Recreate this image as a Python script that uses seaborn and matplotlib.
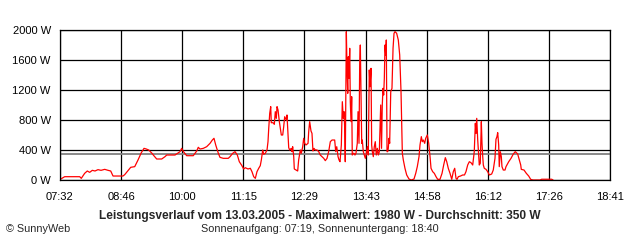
import numpy as np
import pandas as pd
import matplotlib
matplotlib.use("Agg")
import matplotlib.pyplot as plt
import seaborn as sns

# Minutes since midnight and power readings (W)
minutes = [
    452.9, 455.6, 457.7, 476.0, 477.9, 482.0, 485.2, 488.1, 491.3, 494.6,
    498.2, 501.9, 506.4, 510.4, 513.7, 516.5, 528.6, 530.7, 534.7, 538.0,
    542.9, 546.9, 550.9, 554.2, 557.0, 559.9, 563.9, 565.5, 569.6, 575.7,
    579.7, 581.8, 591.9, 598.0, 600.0, 602.2, 606.1, 614.1, 618.3, 620.2,
    622.3, 626.3, 630.4, 634.5, 637.3, 639.3, 641.4, 644.6, 646.6, 650.6,
    656.7, 658.8, 662.1, 664.9, 667.7, 670.1, 673.0, 675.4, 677.4, 680.7,
    683.5, 685.5, 687.6, 689.6, 691.6, 693.7, 695.6, 696.9, 698.6, 699.8,
    701.7, 703.8, 705.0, 705.9, 707.1, 708.3, 709.0, 711.1, 712.7, 713.9,
    715.1, 716.0, 717.2, 718.8, 720.0, 721.2, 722.9, 724.1, 725.3, 727.3,
    728.1, 729.3, 730.2, 731.4, 733.3, 734.2, 735.0, 736.3, 737.0, 739.1,
    741.1, 742.3, 744.3, 745.5, 747.2, 748.4, 749.6, 751.2, 753.7, 754.5,
    755.7, 757.3, 758.5, 759.7, 761.0, 762.5, 764.6, 766.7, 768.6, 770.7,
    772.8, 774.7, 776.8, 778.8, 780.8, 782.9, 786.1, 787.4, 788.6, 790.2,
    791.4, 792.6, 794.2, 795.4, 796.6, 797.5, 798.3, 799.0, 800.3, 801.1,
    802.0, 802.7, 803.5, 804.4, 805.1, 806.0, 806.8, 807.5, 808.8, 809.6,
    810.8, 812.0, 813.6, 814.5, 815.7, 816.5, 817.3, 818.1, 819.0, 819.7,
    820.9, 822.1, 823.4, 824.6, 825.8, 827.0, 828.2, 829.1, 830.3, 831.1,
    831.9, 833.1, 834.3, 835.5, 836.7, 838.0, 839.2, 840.4, 842.1, 843.1,
    844.0, 844.9, 845.7, 846.5, 847.3, 848.2, 848.9, 849.8, 850.6, 851.3,
    852.2, 853.0, 854.3, 855.8, 857.1, 858.3, 859.5, 861.5, 863.5, 865.2,
    866.8, 868.4, 869.6, 871.6, 873.7, 876.5, 879.3, 882.6, 884.7, 886.6,
    888.7, 889.9, 891.5, 892.7, 893.9, 895.6, 896.8, 898.8, 900.5, 902.1,
    903.3, 905.3, 907.3, 909.4, 911.4, 914.2, 916.7, 918.7, 920.7, 922.4,
    924.3, 926.4, 928.5, 930.4, 932.1, 933.7, 934.9, 936.5, 939.2, 941.8,
    944.0, 945.8, 947.9, 949.9, 951.9, 954.0, 955.9, 957.2, 958.0, 958.9,
    960.1, 961.3, 962.0, 963.2, 964.5, 965.3, 966.2, 966.9, 968.1, 970.2,
    972.2, 974.2, 977.1, 979.0, 981.1, 982.3, 983.5, 984.4, 985.6, 986.3,
    987.6, 988.8, 989.6, 991.2, 993.3, 994.5, 997.8, 1000.6, 1003.4, 1005.8,
    1008.7, 1010.7, 1012.4, 1013.1, 1016.4, 1019.2, 1022.1, 1024.5, 1027.3, 1035.9,
    1037.9, 1050.1, 1051.7,
]
watts = [
    13, 30, 44, 44, 22, 89, 120, 102, 129, 120,
    138, 129, 142, 129, 120, 53, 53, 71, 124, 169,
    178, 267, 364, 422, 413, 400, 356, 333, 280, 280,
    311, 333, 333, 378, 422, 378, 324, 324, 387, 436,
    413, 422, 444, 489, 533, 556, 467, 356, 302, 289,
    289, 311, 356, 378, 333, 244, 196, 147, 164, 147,
    156, 111, 44, 22, 111, 156, 191, 267, 400, 342,
    356, 400, 511, 689, 889, 978, 764, 764, 742, 911,
    822, 978, 933, 778, 689, 600, 600, 711, 844, 800,
    867, 622, 431, 400, 422, 378, 444, 311, 147, 133,
    120, 267, 400, 356, 444, 556, 489, 467, 489, 644,
    778, 653, 622, 387, 422, 400, 400, 378, 333, 311,
    289, 258, 289, 378, 511, 533, 533, 378, 444, 311,
    267, 244, 467, 1044, 822, 911, 689, 244, 1978, 1489,
    1156, 1644, 1356, 1756, 1044, 778, 1111, 333, 356, 356,
    333, 356, 489, 911, 489, 1511, 1800, 1222, 489, 533,
    378, 333, 289, 356, 444, 333, 1467, 1244, 1489, 467,
    378, 311, 444, 511, 333, 422, 333, 378, 1000, 422,
    1000, 1222, 1133, 1356, 1800, 1667, 1867, 378, 378, 422,
    556, 489, 1178, 1222, 1756, 1956, 1978, 1956, 1867, 1667,
    1178, 356, 267, 156, 67, 13, 0, 13, 89, 178,
    311, 467, 578, 511, 533, 489, 556, 600, 489, 311,
    156, 111, 89, 44, 9, 9, 89, 200, 298, 244,
    156, 89, 9, 111, 156, 22, 9, 44, 53, 67,
    67, 111, 200, 244, 231, 200, 378, 756, 622, 822,
    533, 311, 200, 222, 778, 489, 311, 200, 156, 142,
    111, 67, 80, 133, 289, 542, 578, 631, 467, 178,
    378, 311, 178, 133, 133, 178, 244, 289, 347, 378,
    347, 267, 200, 142, 133, 89, 53, 9, 0, 0,
    10, 10, 0,
]

average_w = 350
y_ticks = [0, 400, 800, 1200, 1600, 2000]
x_tick_labels = ["07:32", "08:46", "10:00", "11:15", "12:29",
                 "13:43", "14:58", "16:12", "17:26", "18:41"]
title = "Leistungsverlauf vom 13.03.2005 - Maximalwert: 1980 W - Durchschnitt: 350 W"
subtitle = "Sonnenaufgang: 07:19, Sonnenuntergang: 18:40"

sns.set_style("white")
plt.rcParams["font.family"] = ["Liberation Sans", "DejaVu Sans"]

df = pd.DataFrame({"min": minutes, "w": watts})

fig = plt.figure(figsize=(6.4, 2.4), dpi=100)
ax = fig.add_axes([60 / 640, 60 / 240, 550 / 640, 150 / 240])

sns.lineplot(data=df, x="min", y="w", color="red", lw=0.9, ax=ax, zorder=2)
ax.axhline(average_w, color="#808080", lw=1.3, zorder=1.8)

start, end = 452, 1121
ax.set_xlim(start, end)
ax.set_ylim(0, 2000)
ax.set_xticks(np.linspace(start, end, len(x_tick_labels)))
ax.set_xticklabels(x_tick_labels)
ax.set_yticks(y_ticks)
ax.set_yticklabels([f"{v} W" for v in y_ticks])
ax.grid(True, color="black", lw=0.9)
ax.set_xlabel("")
ax.set_ylabel("")
for s in ax.spines.values():
    s.set_color("black")
    s.set_linewidth(0.9)
    s.set_visible(True)
ax.tick_params(axis="both", direction="out", length=3.6, width=0.9,
               color="black", labelsize=8, labelcolor="black")
ax.tick_params(axis="x", pad=5)
ax.tick_params(axis="y", pad=3)

fig.text(0.5, 1 - 216 / 240, title, ha="center", va="center",
         fontsize=8.6, fontweight="bold")
fig.text(0.5, 1 - 229 / 240, subtitle, ha="center", va="center", fontsize=7.8)
fig.text(6 / 640, 1 - 229 / 240, "\u00a9 SunnyWeb", ha="left", va="center", fontsize=7.8)

fig.savefig("out.png", dpi=100)
